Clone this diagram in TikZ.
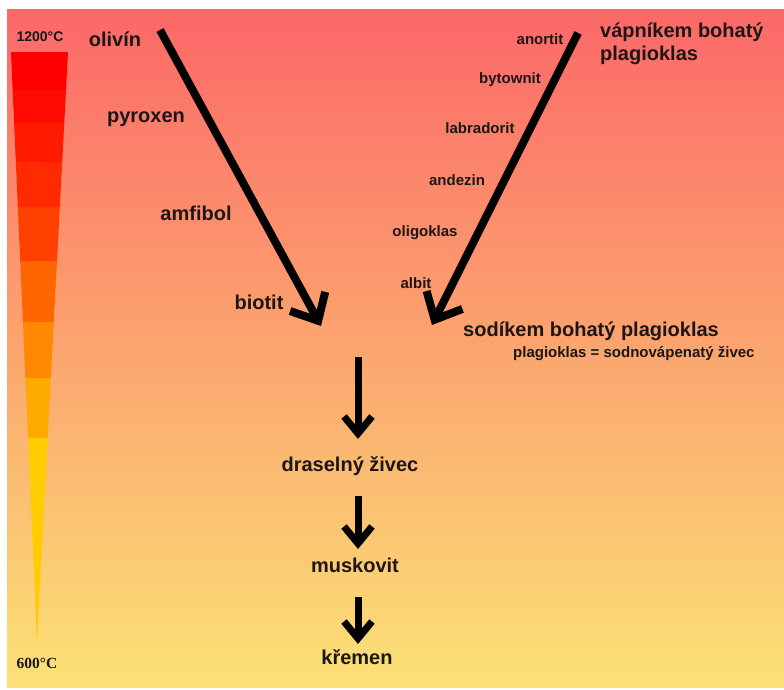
\documentclass[tikz,border=0pt]{standalone}
\usepackage{fontspec}
\setmainfont{Liberation Sans}
\newfontfamily\seriffont{Liberation Serif}
\usetikzlibrary{arrows.meta}

\definecolor{bgtop}{RGB}{252,104,104}
\definecolor{bgmid}{RGB}{252,164,112}
\definecolor{bgbot}{RGB}{251,226,118}
\definecolor{ink}{RGB}{28,22,22}
\definecolor{t1}{RGB}{255,0,0}
\definecolor{t2}{RGB}{255,10,0}
\definecolor{t3}{RGB}{255,26,0}
\definecolor{t4}{RGB}{255,42,0}
\definecolor{t5}{RGB}{255,64,0}
\definecolor{t6}{RGB}{255,102,0}
\definecolor{t7}{RGB}{255,136,0}
\definecolor{t8}{RGB}{255,170,0}
\definecolor{t9}{RGB}{255,204,0}

\begin{document}
\begin{tikzpicture}[x=1pt,y=-1pt,
  big/.style={font=\fontsize{20}{23}\selectfont\bfseries, text=ink, inner sep=0pt, anchor=base},
  small/.style={font=\fontsize{15}{17}\selectfont\bfseries, text=ink, inner sep=0pt, anchor=base},
  flow/.style={line width=8pt, line cap=butt, -{Straight Barb[length=22pt,width=40pt]}},
  down/.style={line width=7pt, line cap=butt, -{Straight Barb[length=17pt,width=28pt]}}]

% page and background
\fill[white] (0,0) rectangle (784,690);
\shade[top color=bgtop, middle color=bgmid, bottom color=bgbot] (7,10) rectangle (784,687);
\useasboundingbox (0,0) rectangle (784,690);

% temperature wedge
\begin{scope}
  \clip (11,52) -- (68,52) -- (37,641) -- cycle;
  \fill[t1] (0,52)  rectangle (80,90);
  \fill[t2] (0,90)  rectangle (80,123);
  \fill[t3] (0,123) rectangle (80,162);
  \fill[t4] (0,162) rectangle (80,207);
  \fill[t5] (0,207) rectangle (80,261);
  \fill[t6] (0,261) rectangle (80,322);
  \fill[t7] (0,322) rectangle (80,378);
  \fill[t8] (0,378) rectangle (80,438);
  \fill[t9] (0,438) rectangle (80,645);
\end{scope}

\node[font=\fontsize{14}{16}\selectfont\bfseries, text=ink, inner sep=0pt, anchor=base] (hot) at (40,42) {1200°C};
\node[font=\fontsize{15.5}{17}\selectfont\seriffont\bfseries, text=ink, inner sep=0pt, anchor=base] (cold) at (37,668) {600°C};

% discontinuous series
\node[big] (ol) at (115,47) {olivín};
\node[big] (py) at (146,123) {pyroxen};
\node[big] (am) at (196,220) {amfibol};
\node[big] (bi) at (259,309) {biotit};

% continuous series
\node[small] (an) at (540,45) {anortit};
\node[small] (by) at (510,84) {bytownit};
\node[small] (la) at (480,133) {labradorit};
\node[small] (ad) at (457,185) {andezin};
\node[small] (og) at (425,236) {oligoklas};
\node[small] (ab) at (416,288) {albit};
\node[big, anchor=base west] (ca1) at (600,38) {vápníkem bohatý};
\node[big, anchor=base west] (ca2) at (600,61) {plagioklas};
\node[big, anchor=base west] (na) at (463,336) {sodíkem bohatý plagioklas};
\node[small, anchor=base west] (def) at (513,357) {plagioklas = sodnovápenatý živec};

% common tail
\node[big] (kf) at (350,471) {draselný živec};
\node[big] (mu) at (355,572) {muskovit};
\node[big] (qz) at (357,664) {křemen};

% arrow end points
\coordinate (l0) at (160,30);
\coordinate (l1) at (321,326);
\coordinate (r0) at (578,33);
\coordinate (r1) at (432,325);
\coordinate (d0) at (358,357);
\coordinate (d1) at (358,439);
\coordinate (m0) at (358,496);
\coordinate (m1) at (358,549);
\coordinate (q0) at (358,597);
\coordinate (q1) at (358,644);

\draw[flow] (l0) -- (l1);
\draw[flow] (r0) -- (r1);
\draw[down] (d0) -- (d1);
\draw[down] (m0) -- (m1);
\draw[down] (q0) -- (q1);
\end{tikzpicture}
\end{document}
